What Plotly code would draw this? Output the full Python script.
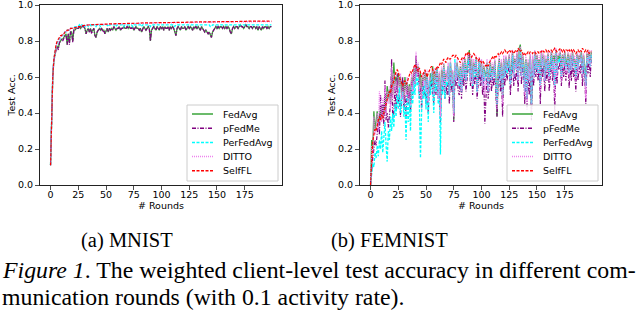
import plotly.graph_objects as go

rounds = list(range(200))
series_names = ["FedAvg", "pFedMe", "PerFedAvg", "DITTO", "SelfFL"]
x_ticks = [0, 25, 50, 75, 100, 125, 150, 175]
y_ticks = [0.0, 0.2, 0.4, 0.6, 0.8, 1.0]
subplot_captions = ["(a) MNIST", "(b) FEMNIST"]
figure_caption = ["<i>Figure 1</i>. The weighted client-level test accuracy in different com-",
                  "munication rounds (with 0.1 activity rate)."]

# ---------------- MNIST ----------------
mnist_pfedme = [
    0.11, 0.46, 0.61, 0.69, 0.73, 0.75, 0.77, 0.75, 0.79, 0.80,
    0.81, 0.80, 0.82, 0.83, 0.83, 0.78, 0.84, 0.78, 0.85, 0.85,
    0.79, 0.86, 0.86, 0.87, 0.87, 0.87, 0.88, 0.87, 0.88, 0.88,
    0.88, 0.87, 0.84, 0.86, 0.87, 0.85, 0.87, 0.84, 0.86, 0.87,
    0.83, 0.82, 0.85, 0.86, 0.87, 0.86, 0.87, 0.85, 0.86, 0.84,
    0.86, 0.87, 0.85, 0.87, 0.86, 0.87, 0.86, 0.88, 0.87, 0.86,
    0.87, 0.87, 0.88, 0.86, 0.87, 0.87, 0.88, 0.87, 0.87, 0.88,
    0.87, 0.88, 0.87, 0.87, 0.88, 0.86, 0.87, 0.88, 0.87, 0.87,
    0.86, 0.87, 0.85, 0.87, 0.88, 0.87, 0.86, 0.87, 0.88, 0.87,
    0.80, 0.86, 0.87, 0.88, 0.87, 0.86, 0.88, 0.87, 0.86, 0.88,
    0.87, 0.88, 0.86, 0.88, 0.87, 0.87, 0.88, 0.86, 0.88, 0.87,
    0.88, 0.87, 0.85, 0.83, 0.87, 0.88, 0.87, 0.86, 0.88, 0.87,
    0.87, 0.88, 0.86, 0.87, 0.88, 0.87, 0.88, 0.87, 0.86, 0.88,
    0.87, 0.88, 0.87, 0.88, 0.87, 0.86, 0.88, 0.87, 0.86, 0.85,
    0.86, 0.85, 0.84, 0.85, 0.83, 0.82, 0.85, 0.86, 0.87, 0.88,
    0.87, 0.88, 0.87, 0.88, 0.88, 0.87, 0.88, 0.87, 0.88, 0.87,
    0.88, 0.87, 0.85, 0.84, 0.87, 0.88, 0.87, 0.88, 0.88, 0.87,
    0.88, 0.89, 0.88, 0.88, 0.87, 0.88, 0.89, 0.88, 0.88, 0.87,
    0.88, 0.88, 0.87, 0.88, 0.88, 0.87, 0.88, 0.86, 0.88, 0.87,
    0.86, 0.88, 0.87, 0.88, 0.88, 0.87, 0.88, 0.87, 0.88, 0.88,
]
mnist_fedavg = [
    0.11, 0.45, 0.60, 0.69, 0.73, 0.76, 0.77, 0.76, 0.79, 0.80,
    0.81, 0.81, 0.82, 0.83, 0.84, 0.78, 0.84, 0.79, 0.85, 0.85,
    0.80, 0.86, 0.86, 0.87, 0.87, 0.87, 0.88, 0.87, 0.88, 0.88,
    0.88, 0.87, 0.84, 0.86, 0.87, 0.85, 0.87, 0.85, 0.86, 0.87,
    0.83, 0.82, 0.85, 0.86, 0.87, 0.86, 0.87, 0.86, 0.86, 0.84,
    0.86, 0.87, 0.85, 0.87, 0.86, 0.87, 0.86, 0.88, 0.87, 0.86,
    0.87, 0.87, 0.88, 0.86, 0.87, 0.87, 0.88, 0.87, 0.87, 0.88,
    0.87, 0.88, 0.87, 0.87, 0.88, 0.86, 0.87, 0.88, 0.87, 0.87,
    0.86, 0.87, 0.85, 0.87, 0.88, 0.87, 0.86, 0.87, 0.88, 0.87,
    0.80, 0.86, 0.87, 0.88, 0.87, 0.86, 0.88, 0.87, 0.86, 0.88,
    0.87, 0.88, 0.86, 0.88, 0.87, 0.87, 0.88, 0.86, 0.88, 0.87,
    0.88, 0.87, 0.85, 0.83, 0.87, 0.88, 0.87, 0.86, 0.88, 0.87,
    0.87, 0.88, 0.86, 0.87, 0.88, 0.87, 0.88, 0.87, 0.86, 0.88,
    0.87, 0.88, 0.87, 0.88, 0.87, 0.86, 0.88, 0.87, 0.86, 0.85,
    0.86, 0.85, 0.84, 0.85, 0.83, 0.82, 0.85, 0.86, 0.87, 0.88,
    0.87, 0.88, 0.87, 0.88, 0.88, 0.87, 0.88, 0.87, 0.88, 0.87,
    0.88, 0.87, 0.85, 0.84, 0.87, 0.88, 0.87, 0.88, 0.88, 0.87,
    0.88, 0.89, 0.88, 0.88, 0.87, 0.88, 0.89, 0.88, 0.88, 0.87,
    0.88, 0.88, 0.87, 0.88, 0.88, 0.87, 0.88, 0.86, 0.88, 0.87,
    0.86, 0.88, 0.87, 0.88, 0.88, 0.87, 0.88, 0.87, 0.88, 0.88,
]
mnist_perfedavg = [
    0.11, 0.47, 0.62, 0.70, 0.74, 0.77, 0.79, 0.80, 0.81, 0.82,
    0.83, 0.83, 0.84, 0.85, 0.85, 0.86, 0.86, 0.86, 0.87, 0.87,
    0.87, 0.87, 0.88, 0.88, 0.88, 0.88, 0.89, 0.88, 0.89, 0.89,
    0.89, 0.88, 0.89, 0.89, 0.88, 0.89, 0.89, 0.88, 0.89, 0.89,
    0.89, 0.88, 0.89, 0.89, 0.89, 0.88, 0.89, 0.89, 0.89, 0.89,
    0.89, 0.89, 0.88, 0.89, 0.89, 0.89, 0.89, 0.89, 0.89, 0.88,
    0.89, 0.89, 0.89, 0.89, 0.89, 0.89, 0.88, 0.89, 0.89, 0.89,
    0.89, 0.89, 0.89, 0.89, 0.88, 0.89, 0.89, 0.89, 0.89, 0.89,
    0.89, 0.89, 0.88, 0.89, 0.89, 0.89, 0.89, 0.89, 0.89, 0.89,
    0.88, 0.89, 0.89, 0.89, 0.89, 0.89, 0.89, 0.89, 0.89, 0.89,
    0.89, 0.89, 0.89, 0.89, 0.89, 0.89, 0.89, 0.89, 0.89, 0.89,
    0.89, 0.89, 0.88, 0.89, 0.89, 0.89, 0.89, 0.89, 0.89, 0.89,
    0.89, 0.89, 0.89, 0.89, 0.89, 0.89, 0.89, 0.89, 0.89, 0.89,
    0.89, 0.89, 0.89, 0.89, 0.89, 0.89, 0.89, 0.89, 0.89, 0.89,
    0.89, 0.89, 0.89, 0.89, 0.88, 0.88, 0.89, 0.89, 0.89, 0.89,
    0.89, 0.89, 0.89, 0.89, 0.89, 0.89, 0.89, 0.89, 0.89, 0.89,
    0.89, 0.89, 0.89, 0.89, 0.89, 0.89, 0.89, 0.89, 0.89, 0.89,
    0.89, 0.89, 0.89, 0.89, 0.89, 0.89, 0.89, 0.89, 0.89, 0.89,
    0.89, 0.89, 0.89, 0.89, 0.89, 0.89, 0.89, 0.89, 0.89, 0.89,
    0.89, 0.89, 0.89, 0.89, 0.89, 0.89, 0.89, 0.89, 0.89, 0.89,
]
mnist_ditto = [
    0.11, 0.45, 0.60, 0.69, 0.74, 0.77, 0.79, 0.80, 0.81, 0.82,
    0.83, 0.83, 0.84, 0.85, 0.85, 0.86, 0.86, 0.86, 0.87, 0.87,
    0.87, 0.87, 0.875, 0.875, 0.88, 0.88, 0.88, 0.88, 0.885, 0.885,
    0.885, 0.885, 0.885, 0.89, 0.89, 0.89, 0.89, 0.89, 0.89, 0.89,
    0.89, 0.89, 0.89, 0.89, 0.89, 0.89, 0.89, 0.89, 0.892, 0.892,
    0.892, 0.892, 0.892, 0.893, 0.893, 0.893, 0.893, 0.894, 0.894, 0.894,
    0.894, 0.894, 0.895, 0.895, 0.895, 0.895, 0.895, 0.895, 0.896, 0.896,
    0.896, 0.896, 0.896, 0.896, 0.897, 0.897, 0.897, 0.897, 0.897, 0.897,
    0.898, 0.898, 0.898, 0.898, 0.898, 0.898, 0.899, 0.899, 0.899, 0.899,
    0.899, 0.899, 0.899, 0.90, 0.90, 0.90, 0.90, 0.90, 0.90, 0.90,
    0.90, 0.90, 0.90, 0.90, 0.90, 0.90, 0.90, 0.90, 0.901, 0.901,
    0.901, 0.901, 0.901, 0.901, 0.901, 0.902, 0.902, 0.902, 0.902, 0.902,
    0.902, 0.902, 0.902, 0.903, 0.903, 0.903, 0.903, 0.903, 0.903, 0.903,
    0.903, 0.903, 0.904, 0.904, 0.904, 0.904, 0.904, 0.904, 0.904, 0.904,
    0.904, 0.904, 0.905, 0.905, 0.905, 0.905, 0.905, 0.905, 0.905, 0.905,
    0.905, 0.905, 0.905, 0.905, 0.906, 0.906, 0.906, 0.906, 0.906, 0.906,
    0.906, 0.906, 0.906, 0.906, 0.906, 0.907, 0.907, 0.907, 0.907, 0.907,
    0.907, 0.907, 0.907, 0.907, 0.907, 0.907, 0.907, 0.908, 0.908, 0.908,
    0.908, 0.908, 0.908, 0.908, 0.908, 0.908, 0.908, 0.908, 0.908, 0.908,
    0.908, 0.908, 0.908, 0.908, 0.908, 0.908, 0.908, 0.908, 0.908, 0.908,
]
mnist_selffl = [
    0.11, 0.44, 0.60, 0.70, 0.75, 0.78, 0.80, 0.81, 0.82, 0.83,
    0.83, 0.84, 0.84, 0.85, 0.85, 0.86, 0.86, 0.86, 0.87, 0.87,
    0.87, 0.87, 0.875, 0.875, 0.88, 0.88, 0.88, 0.88, 0.885, 0.885,
    0.885, 0.886, 0.886, 0.888, 0.889, 0.89, 0.89, 0.89, 0.89, 0.89,
    0.891, 0.891, 0.891, 0.892, 0.892, 0.892, 0.893, 0.893, 0.893, 0.894,
    0.894, 0.894, 0.894, 0.895, 0.895, 0.895, 0.895, 0.896, 0.896, 0.896,
    0.896, 0.896, 0.897, 0.897, 0.897, 0.897, 0.897, 0.897, 0.898, 0.898,
    0.898, 0.898, 0.898, 0.898, 0.899, 0.899, 0.899, 0.899, 0.899, 0.899,
    0.90, 0.90, 0.90, 0.90, 0.90, 0.90, 0.90, 0.90, 0.90, 0.90,
    0.901, 0.901, 0.901, 0.901, 0.901, 0.901, 0.901, 0.902, 0.902, 0.902,
    0.902, 0.902, 0.902, 0.902, 0.902, 0.903, 0.903, 0.903, 0.903, 0.903,
    0.903, 0.903, 0.903, 0.903, 0.904, 0.904, 0.904, 0.904, 0.904, 0.904,
    0.904, 0.904, 0.904, 0.905, 0.905, 0.905, 0.905, 0.905, 0.905, 0.905,
    0.905, 0.905, 0.906, 0.906, 0.906, 0.906, 0.906, 0.906, 0.906, 0.906,
    0.906, 0.906, 0.907, 0.907, 0.907, 0.907, 0.907, 0.907, 0.907, 0.907,
    0.907, 0.907, 0.907, 0.907, 0.908, 0.908, 0.908, 0.908, 0.908, 0.908,
    0.908, 0.908, 0.908, 0.908, 0.908, 0.909, 0.909, 0.909, 0.909, 0.909,
    0.909, 0.909, 0.909, 0.909, 0.909, 0.909, 0.909, 0.91, 0.91, 0.91,
    0.91, 0.91, 0.91, 0.91, 0.91, 0.91, 0.91, 0.91, 0.91, 0.91,
    0.91, 0.91, 0.91, 0.91, 0.91, 0.91, 0.91, 0.91, 0.91, 0.91,
]

# ---------------- FEMNIST ----------------
femnist_fedavg = [
    0.00, 0.25, 0.20, 0.41, 0.30, 0.35, 0.41, 0.33, 0.38, 0.42,
    0.36, 0.45, 0.40, 0.50, 0.42, 0.55, 0.48, 0.53, 0.45, 0.62,
    0.50, 0.68, 0.55, 0.60, 0.52, 0.62, 0.55, 0.60, 0.50, 0.58,
    0.47, 0.60, 0.52, 0.57, 0.49, 0.56, 0.45, 0.60, 0.55, 0.65,
    0.58, 0.70, 0.62, 0.66, 0.55, 0.62, 0.50, 0.60, 0.58, 0.63,
    0.55, 0.62, 0.48, 0.58, 0.62, 0.55, 0.66, 0.52, 0.63, 0.58,
    0.65, 0.50, 0.62, 0.40, 0.64, 0.58, 0.67, 0.55, 0.62, 0.60,
    0.66, 0.52, 0.68, 0.58, 0.63, 0.36, 0.66, 0.60, 0.68, 0.62,
    0.58, 0.66, 0.55, 0.68, 0.62, 0.70, 0.60, 0.66, 0.72, 0.75,
    0.60, 0.70, 0.58, 0.68, 0.63, 0.71, 0.55, 0.66, 0.70, 0.62,
    0.68, 0.58, 0.66, 0.62, 0.60, 0.68, 0.55, 0.64, 0.68, 0.60,
    0.66, 0.62, 0.69, 0.58, 0.38, 0.65, 0.70, 0.60, 0.68, 0.48,
    0.70, 0.62, 0.71, 0.65, 0.68, 0.72, 0.58, 0.70, 0.74, 0.62,
    0.70, 0.66, 0.73, 0.60, 0.76, 0.78, 0.62, 0.72, 0.68, 0.55,
    0.70, 0.50, 0.68, 0.60, 0.72, 0.42, 0.70, 0.62, 0.74, 0.66,
    0.72, 0.65, 0.70, 0.58, 0.74, 0.68, 0.72, 0.60, 0.70, 0.66,
    0.73, 0.62, 0.70, 0.74, 0.66, 0.72, 0.68, 0.75, 0.64, 0.72,
    0.70, 0.74, 0.62, 0.72, 0.68, 0.74, 0.66, 0.70, 0.73, 0.64,
    0.72, 0.66, 0.74, 0.68, 0.70, 0.62, 0.73, 0.66, 0.72, 0.70,
    0.74, 0.64, 0.72, 0.66, 0.56, 0.73, 0.70, 0.74, 0.68, 0.74,
]
femnist_pfedme = [
    0.00, 0.10, 0.15, 0.20, 0.25, 0.22, 0.30, 0.35, 0.28, 0.50,
    0.38, 0.45, 0.33, 0.58, 0.36, 0.40, 0.32, 0.38, 0.45, 0.70,
    0.36, 0.40, 0.55, 0.42, 0.62, 0.45, 0.50, 0.38, 0.48, 0.60,
    0.42, 0.50, 0.38, 0.55, 0.45, 0.52, 0.40, 0.58, 0.50, 0.62,
    0.55, 0.72, 0.60, 0.65, 0.48, 0.55, 0.42, 0.58, 0.50, 0.55,
    0.45, 0.58, 0.40, 0.55, 0.50, 0.60, 0.52, 0.45, 0.58, 0.50,
    0.62, 0.48, 0.55, 0.35, 0.58, 0.52, 0.62, 0.48, 0.55, 0.50,
    0.60, 0.45, 0.62, 0.52, 0.58, 0.35, 0.60, 0.55, 0.62, 0.52,
    0.50, 0.60, 0.48, 0.62, 0.55, 0.64, 0.52, 0.58, 0.66, 0.72,
    0.55, 0.64, 0.50, 0.60, 0.56, 0.66, 0.48, 0.60, 0.64, 0.55,
    0.62, 0.50, 0.60, 0.34, 0.55, 0.62, 0.48, 0.58, 0.62, 0.52,
    0.60, 0.55, 0.64, 0.50, 0.38, 0.58, 0.64, 0.52, 0.62, 0.38,
    0.64, 0.55, 0.66, 0.58, 0.62, 0.68, 0.50, 0.64, 0.70, 0.55,
    0.62, 0.58, 0.68, 0.52, 0.70, 0.72, 0.56, 0.66, 0.62, 0.45,
    0.64, 0.42, 0.62, 0.50, 0.66, 0.36, 0.64, 0.55, 0.68, 0.60,
    0.66, 0.58, 0.64, 0.45, 0.68, 0.60, 0.66, 0.52, 0.64, 0.58,
    0.68, 0.52, 0.64, 0.70, 0.58, 0.66, 0.40, 0.70, 0.56, 0.66,
    0.64, 0.70, 0.55, 0.66, 0.60, 0.68, 0.58, 0.62, 0.68, 0.54,
    0.66, 0.58, 0.70, 0.60, 0.64, 0.52, 0.68, 0.58, 0.66, 0.62,
    0.70, 0.55, 0.66, 0.60, 0.45, 0.68, 0.62, 0.70, 0.60, 0.72,
]
femnist_perfedavg = [
    0.00, 0.08, 0.12, 0.10, 0.18, 0.15, 0.22, 0.16, 0.25, 0.20,
    0.30, 0.18, 0.28, 0.35, 0.22, 0.13, 0.30, 0.25, 0.38, 0.30,
    0.40, 0.32, 0.45, 0.38, 0.50, 0.42, 0.55, 0.40, 0.48, 0.52,
    0.38, 0.45, 0.25, 0.50, 0.35, 0.48, 0.30, 0.55, 0.45, 0.58,
    0.50, 0.62, 0.55, 0.60, 0.45, 0.15, 0.40, 0.55, 0.48, 0.58,
    0.42, 0.60, 0.35, 0.58, 0.50, 0.62, 0.55, 0.40, 0.60, 0.52,
    0.64, 0.45, 0.58, 0.17, 0.60, 0.50, 0.65, 0.48, 0.58, 0.55,
    0.66, 0.50, 0.68, 0.55, 0.62, 0.40, 0.70, 0.58, 0.66, 0.60,
    0.55, 0.64, 0.52, 0.66, 0.60, 0.68, 0.58, 0.64, 0.70, 0.66,
    0.58, 0.68, 0.55, 0.66, 0.60, 0.70, 0.52, 0.64, 0.68, 0.60,
    0.66, 0.55, 0.64, 0.58, 0.60, 0.66, 0.52, 0.62, 0.66, 0.58,
    0.64, 0.60, 0.67, 0.55, 0.45, 0.62, 0.68, 0.58, 0.66, 0.50,
    0.68, 0.60, 0.70, 0.62, 0.66, 0.70, 0.56, 0.68, 0.72, 0.60,
    0.68, 0.64, 0.71, 0.58, 0.72, 0.74, 0.60, 0.70, 0.66, 0.52,
    0.68, 0.48, 0.66, 0.58, 0.70, 0.45, 0.68, 0.60, 0.72, 0.64,
    0.70, 0.62, 0.68, 0.55, 0.72, 0.66, 0.70, 0.58, 0.68, 0.64,
    0.72, 0.60, 0.68, 0.72, 0.64, 0.70, 0.55, 0.73, 0.62, 0.70,
    0.68, 0.72, 0.60, 0.70, 0.66, 0.72, 0.64, 0.68, 0.71, 0.62,
    0.70, 0.64, 0.72, 0.66, 0.68, 0.60, 0.71, 0.64, 0.70, 0.68,
    0.72, 0.62, 0.70, 0.64, 0.55, 0.71, 0.68, 0.72, 0.66, 0.73,
]
femnist_ditto = [
    0.00, 0.22, 0.18, 0.38, 0.28, 0.32, 0.40, 0.30, 0.52, 0.40,
    0.35, 0.48, 0.38, 0.55, 0.40, 0.52, 0.45, 0.55, 0.42, 0.65,
    0.48, 0.62, 0.52, 0.58, 0.50, 0.60, 0.54, 0.62, 0.48, 0.56,
    0.45, 0.58, 0.50, 0.60, 0.46, 0.55, 0.44, 0.62, 0.52, 0.66,
    0.56, 0.74, 0.60, 0.68, 0.52, 0.60, 0.48, 0.62, 0.55, 0.64,
    0.52, 0.64, 0.46, 0.60, 0.58, 0.62, 0.64, 0.50, 0.65, 0.56,
    0.66, 0.48, 0.63, 0.38, 0.66, 0.55, 0.68, 0.52, 0.64, 0.58,
    0.68, 0.50, 0.70, 0.56, 0.64, 0.38, 0.68, 0.58, 0.70, 0.60,
    0.56, 0.68, 0.52, 0.70, 0.60, 0.72, 0.58, 0.68, 0.73, 0.70,
    0.58, 0.72, 0.56, 0.70, 0.62, 0.72, 0.52, 0.68, 0.71, 0.60,
    0.70, 0.55, 0.68, 0.50, 0.62, 0.70, 0.52, 0.66, 0.70, 0.58,
    0.68, 0.60, 0.70, 0.56, 0.42, 0.66, 0.72, 0.58, 0.70, 0.45,
    0.72, 0.60, 0.72, 0.64, 0.70, 0.73, 0.56, 0.72, 0.75, 0.60,
    0.72, 0.64, 0.74, 0.58, 0.75, 0.77, 0.60, 0.73, 0.66, 0.50,
    0.72, 0.46, 0.70, 0.58, 0.73, 0.40, 0.72, 0.60, 0.75, 0.64,
    0.73, 0.62, 0.72, 0.52, 0.75, 0.66, 0.73, 0.58, 0.72, 0.64,
    0.74, 0.58, 0.72, 0.75, 0.62, 0.73, 0.48, 0.76, 0.60, 0.73,
    0.72, 0.75, 0.58, 0.73, 0.66, 0.75, 0.62, 0.70, 0.74, 0.60,
    0.73, 0.64, 0.75, 0.66, 0.72, 0.58, 0.74, 0.62, 0.73, 0.68,
    0.75, 0.60, 0.73, 0.64, 0.48, 0.74, 0.68, 0.75, 0.66, 0.75,
]
femnist_selffl = [
    0.00, 0.18, 0.24, 0.28, 0.31, 0.30, 0.34, 0.36, 0.38, 0.36,
    0.39, 0.37, 0.40, 0.43, 0.45, 0.48, 0.50, 0.52, 0.51, 0.55,
    0.56, 0.58, 0.61, 0.63, 0.64, 0.63, 0.60, 0.58, 0.56, 0.55,
    0.57, 0.58, 0.56, 0.57, 0.59, 0.61, 0.63, 0.62, 0.64, 0.66,
    0.67, 0.66, 0.64, 0.63, 0.65, 0.62, 0.60, 0.61, 0.63, 0.64,
    0.62, 0.60, 0.62, 0.64, 0.65, 0.66, 0.64, 0.62, 0.63, 0.65,
    0.66, 0.65, 0.67, 0.68, 0.67, 0.69, 0.70, 0.69, 0.68, 0.70,
    0.71, 0.70, 0.70, 0.71, 0.72, 0.72, 0.71, 0.72, 0.71, 0.70,
    0.69, 0.68, 0.70, 0.71, 0.70, 0.72, 0.73, 0.72, 0.74, 0.73,
    0.72, 0.71, 0.72, 0.73, 0.72, 0.71, 0.70, 0.69, 0.70, 0.69,
    0.68, 0.69, 0.68, 0.67, 0.66, 0.67, 0.66, 0.68, 0.69, 0.70,
    0.71, 0.70, 0.72, 0.71, 0.72, 0.73, 0.72, 0.73, 0.74, 0.73,
    0.74, 0.75, 0.74, 0.73, 0.74, 0.75, 0.74, 0.75, 0.74, 0.73,
    0.74, 0.75, 0.74, 0.76, 0.75, 0.74, 0.75, 0.73, 0.72, 0.73,
    0.72, 0.73, 0.74, 0.73, 0.74, 0.74, 0.73, 0.74, 0.74, 0.73,
    0.74, 0.74, 0.73, 0.74, 0.74, 0.75, 0.74, 0.74, 0.75, 0.74,
    0.75, 0.74, 0.75, 0.75, 0.74, 0.75, 0.76, 0.75, 0.74, 0.75,
    0.75, 0.76, 0.75, 0.74, 0.75, 0.74, 0.75, 0.75, 0.74, 0.75,
    0.74, 0.75, 0.74, 0.75, 0.74, 0.73, 0.74, 0.75, 0.74, 0.75,
    0.74, 0.76, 0.75, 0.74, 0.75, 0.74, 0.75, 0.73, 0.74, 0.74,
]

mnist_data = [mnist_fedavg, mnist_pfedme, mnist_perfedavg, mnist_ditto, mnist_selffl]
femnist_data = [femnist_fedavg, femnist_pfedme, femnist_perfedavg, femnist_ditto, femnist_selffl]

# ---------------- styling ----------------
colors = ["#3aa53a", "#800080", "#00ffff", "#ee82ee", "#ff0000"]
dashes = ["solid", "4px,1.5px,1px,1.5px", "3px,1.5px", "1px,1px", "3px,1.5px"]
widths = [1.3, 1.2, 1.3, 1.3, 1.2]

W, H = 640, 315
def px(x):
    return x / W
def py(y):
    return 1 - y / H

ax_left = [39.5, 359.5]
ax_right = [282.4, 602.4]
ax_top, ax_bot = 5, 185

fig = go.Figure()
for k, data in enumerate([mnist_data, femnist_data]):
    xa = "x" if k == 0 else "x2"
    ya = "y" if k == 0 else "y2"
    for i, name in enumerate(series_names):
        fig.add_trace(go.Scatter(
            x=rounds, y=data[i], mode="lines", name=name, showlegend=False,
            line=dict(color=colors[i], dash=dashes[i], width=widths[i]),
            xaxis=xa, yaxis=ya, hoverinfo="skip"))

tick_font = dict(family="DejaVu Sans", size=9.5, color="black")
axis_common = dict(showline=True, mirror=True, linecolor="#222", linewidth=1,
                   ticks="outside", ticklen=3.5, tickwidth=0.8, tickcolor="#222",
                   showgrid=False, zeroline=False, tickfont=tick_font, automargin=False,
                   ticklabeloverflow="allow")
title_font = dict(family="DejaVu Sans", size=9.5, color="black")

layout = dict(width=W, height=H, autosize=False, template="none",
              margin=dict(l=0, r=0, t=0, b=0, pad=0),
              paper_bgcolor="white", plot_bgcolor="white", showlegend=False)
for k in range(2):
    sx = "" if k == 0 else "2"
    layout["xaxis" + sx] = dict(
        domain=[px(ax_left[k]), px(ax_right[k])], range=[-9.95, 208.95],
        tickvals=x_ticks, anchor="y" + sx, ticklabelstandoff=-3,
        title=dict(text="# Rounds", font=title_font, standoff=0),
        **axis_common)
    layout["yaxis" + sx] = dict(
        domain=[py(ax_bot), py(ax_top)], range=[0, 1], tickvals=y_ticks, tickformat=".1f",
        anchor="x" + sx,
        title=dict(text="Test Acc.", font=title_font, standoff=0),
        **axis_common)
fig.update_layout(**layout)

# legends (matplotlib-style boxes)
shapes = []
annotations = []
leg_box = (187, 105, 278, 181)
for k in range(2):
    off = 320 * k
    shapes.append(dict(type="rect", xref="paper", yref="paper", layer="above",
                       x0=px(leg_box[0] + off), x1=px(leg_box[2] + off),
                       y0=py(leg_box[3]), y1=py(leg_box[1]),
                       line=dict(color="#cccccc", width=1), fillcolor="rgba(255,255,255,0.85)"))
    for i, name in enumerate(series_names):
        yy = 114 + 14.2 * i
        shapes.append(dict(type="line", xref="paper", yref="paper", layer="above",
                           x0=px(192 + off), x1=px(213 + off), y0=py(yy), y1=py(yy),
                           line=dict(color=colors[i], dash=dashes[i], width=widths[i] + 0.2)))
        annotations.append(dict(xref="paper", yref="paper", x=px(221 + off), y=py(yy),
                                xanchor="left", yanchor="middle", showarrow=False, text=name,
                                font=dict(family="DejaVu Sans", size=9.5, color="black")))

serif = "Liberation Serif, Times New Roman, serif"
annotations.append(dict(xref="paper", yref="paper", x=px(127), y=py(240), xanchor="center",
                        yanchor="middle", showarrow=False, text=subplot_captions[0],
                        font=dict(family=serif, size=20.5, color="black")))
annotations.append(dict(xref="paper", yref="paper", x=px(389), y=py(240), xanchor="center",
                        yanchor="middle", showarrow=False, text=subplot_captions[1],
                        font=dict(family=serif, size=20.5, color="black")))
annotations.append(dict(xref="paper", yref="paper", x=0, y=py(270), xanchor="left",
                        yanchor="middle", showarrow=False, text=figure_caption[0],
                        font=dict(family=serif, size=23.8, color="black")))
annotations.append(dict(xref="paper", yref="paper", x=0, y=py(297), xanchor="left",
                        yanchor="middle", showarrow=False, text=figure_caption[1],
                        font=dict(family=serif, size=23.8, color="black")))

fig.update_layout(shapes=shapes, annotations=annotations)
fig.write_html("out.html", config={"displayModeBar": False, "staticPlot": True},
               post_script="document.body.style.margin='0px';document.body.style.padding='0px';")
